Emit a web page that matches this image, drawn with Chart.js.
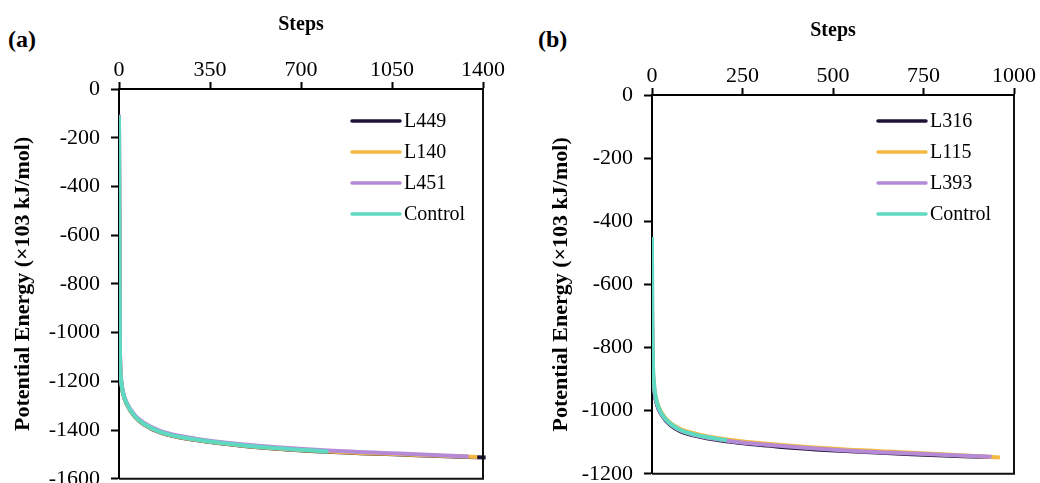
<!DOCTYPE html>
<html lang="en">
<head>
  <meta charset="UTF-8">
  <title>Potential Energy vs Steps</title>
  <script src="https://cdn.jsdelivr.net/npm/chart.js@4.4.0/dist/chart.umd.min.js"></script>
  <style>
    body { margin: 0; background: #fff; width: 1040px; height: 483px; overflow: hidden; position: relative; font-family: 'Liberation Serif', serif; }
    .panel { position: absolute; top: 0; width: 520px; }
    #panelA { left: 0; }
    #panelB { left: 520px; }
    .tag { position: absolute; font-weight: bold; font-size: 24px; line-height: 1; }
  </style>
</head>
<body>
  <div class="tag" style="left:8px; top:27px;">(a)</div>
  <div class="tag" style="left:538px; top:27px;">(b)</div>
  <!-- canvases are taller than the page: the bottom tick label is cut off as in the source figure -->
  <div class="panel" id="panelA"><canvas id="chartA" width="520" height="503"></canvas></div>
  <div class="panel" id="panelB"><canvas id="chartB" width="520" height="498"></canvas></div>

  <script>
    // series names and colours
    const namesA = ['L449', 'L140', 'L451', 'Control'];
    const namesB = ['L316', 'L115', 'L393', 'Control'];
    const colors = ['#1e1236', '#f4b841', '#b58ad6', '#5ed9c2'];

    // panel (a) – steps and potential energy (x10^3 kJ/mol)
    const stepsA_L449 = [0, 2, 4, 8, 15, 30, 60, 95, 160, 290, 480, 805, 1120, 1410];
    const valsA_L449  = [-110, -800, -1100, -1197, -1247, -1294, -1344, -1376, -1410, -1440, -1465, -1489, -1502, -1513];
    const stepsA_L140 = [0, 2, 4, 8, 15, 30, 60, 95, 160, 290, 480, 805, 1120, 1378];
    const valsA_L140  = [-110, -800, -1100, -1196, -1246, -1293, -1343, -1375, -1409, -1439, -1464, -1488, -1501, -1511];
    const stepsA_L451 = [0, 2, 4, 8, 15, 30, 60, 95, 160, 290, 480, 805, 1120, 1345];
    const valsA_L451  = [-105, -790, -1092, -1190, -1240, -1288, -1338, -1370, -1404, -1434, -1459, -1484, -1498, -1508];
    const stepsA_Ctrl = [0, 2, 4, 8, 15, 30, 60, 95, 160, 290, 480, 805];
    const valsA_Ctrl  = [-110, -800, -1100, -1195, -1245, -1292, -1342, -1374, -1408, -1438, -1463, -1488];

    // panel (b)
    const stepsB_L316 = [0, 1, 3, 6, 10, 18, 37, 73, 120, 212, 350, 534, 718, 930];
    const valsB_L316  = [-700, -825, -898, -937, -964, -995, -1030, -1062, -1080, -1098, -1114, -1128, -1138, -1147];
    const stepsB_L115 = [0, 1, 3, 6, 10, 18, 37, 73, 120, 212, 350, 534, 718, 961];
    const valsB_L115  = [-650, -800, -880, -925, -955, -987, -1023, -1055, -1073, -1092, -1108, -1123, -1133, -1148];
    const stepsB_L393 = [0, 1, 3, 6, 10, 18, 37, 73, 120, 212, 350, 534, 718, 938];
    const valsB_L393  = [-600, -790, -885, -932, -962, -993, -1028, -1060, -1078, -1096, -1111, -1126, -1136, -1146];
    const stepsB_Ctrl = [0, 1, 3, 6, 10, 18, 37, 73, 120, 207];
    const valsB_Ctrl  = [-450, -700, -860, -920, -955, -990, -1026, -1058, -1076, -1094];

    // axis ticks
    const xTicksA = { max: 1400, step: 350 };
    const yTicksA = { min: -1600, step: 200 };
    const xTicksB = { max: 1000, step: 250 };
    const yTicksB = { min: -1200, step: 200 };

    const toPoints = (s, v) => s.map((x, i) => ({ x: x, y: v[i] }));
    const plain = v => String(v);   // no thousands separator

    // draws the right and bottom sides of the plot box
    const framePlugin = {
      id: 'frame',
      afterDraw(chart) {
        const { ctx, chartArea: a } = chart;
        ctx.save();
        ctx.strokeStyle = '#111';
        ctx.lineWidth = 2;
        ctx.beginPath();
        ctx.moveTo(a.left, a.bottom);
        ctx.lineTo(a.right, a.bottom);
        ctx.lineTo(a.right, a.top);
        ctx.stroke();
        ctx.restore();
      }
    };

    // legend drawn inside the plot area
    const innerLegend = {
      id: 'innerLegend',
      afterDraw(chart, args, opts) {
        const { ctx, chartArea } = chart;
        ctx.save();
        ctx.font = '20px "Liberation Serif"';
        ctx.textBaseline = 'middle';
        opts.names.forEach((name, i) => {
          const x = chartArea.left + opts.left;
          const y = chartArea.top + opts.top + i * opts.gap;
          ctx.strokeStyle = colors[i];
          ctx.lineWidth = 3.5;
          ctx.lineCap = 'round';
          ctx.beginPath();
          ctx.moveTo(x, y);
          ctx.lineTo(x + 48, y);
          ctx.stroke();
          ctx.fillStyle = '#000';
          ctx.fillText(name, x + 52, y + 1);
        });
        ctx.restore();
      }
    };

    function makeDatasets(names, series) {
      return names.map((n, i) => ({
        label: n,
        data: series[i],
        borderColor: colors[i],
        backgroundColor: colors[i],
        borderWidth: 4,
        pointRadius: 0,
        cubicInterpolationMode: 'monotone',
        order: 4 - i,
        clip: { left: 0, top: 0, right: 12, bottom: 0 }
      }));
    }

    function makeChart(id, names, series, cfg) {
      return new Chart(document.getElementById(id), {
        type: 'line',
        data: { datasets: makeDatasets(names, series) },
        plugins: [framePlugin, innerLegend],
        options: {
          responsive: false,
          animation: false,
          layout: { padding: { left: 0, top: 0, right: cfg.padRight, bottom: 0 } },
          plugins: {
            legend: { display: false },
            tooltip: { enabled: false },
            innerLegend: { names: names, left: cfg.legLeft, top: cfg.legTop, gap: 31 }
          },
          scales: {
            x: {
              type: 'linear',
              position: 'top',
              min: 0,
              max: cfg.x.max,
              ticks: { stepSize: cfg.x.step, color: '#000', padding: -1, maxRotation: 0, callback: plain,
                       font: { family: 'Liberation Serif', size: 22 } },
              grid: { drawOnChartArea: false, tickLength: 7, tickColor: '#000', tickWidth: 2 },
              border: { color: '#000', width: 2 },
              title: { display: true, text: 'Steps', color: '#000', padding: { top: cfg.xTitlePad, bottom: 0 },
                       font: { family: 'Liberation Serif', size: 20, weight: 'bold' } },
              afterFit: s => { s.height = cfg.xHeight; }
            },
            y: {
              min: cfg.y.min,
              max: 0,
              ticks: { stepSize: cfg.y.step, color: '#000', padding: cfg.yTickPad, callback: plain,
                       font: { family: 'Liberation Serif', size: 22 } },
              grid: { drawOnChartArea: false, tickLength: 8, tickColor: '#000', tickWidth: 2 },
              border: { color: '#000', width: 2 },
              title: { display: true, text: 'Potential Energy (×103 kJ/mol)', color: '#000',
                       padding: { top: cfg.yTitlePad, bottom: 0 },
                       font: { family: 'Liberation Serif', size: 22, weight: 'bold' } },
              afterFit: s => { s.width = cfg.yWidth; }
            }
          }
        }
      });
    }

    makeChart('chartA', namesA, [
      toPoints(stepsA_L449, valsA_L449),
      toPoints(stepsA_L140, valsA_L140),
      toPoints(stepsA_L451, valsA_L451),
      toPoints(stepsA_Ctrl, valsA_Ctrl)
    ], { x: xTicksA, y: yTicksA, xHeight: 89, yWidth: 119, padRight: 37,
         xTitlePad: 13, yTitlePad: 10, yTickPad: 11, legLeft: 233, legTop: 32 });

    makeChart('chartB', namesB, [
      toPoints(stepsB_L316, valsB_L316),
      toPoints(stepsB_L115, valsB_L115),
      toPoints(stepsB_L393, valsB_L393),
      toPoints(stepsB_Ctrl, valsB_Ctrl)
    ], { x: xTicksB, y: yTicksB, xHeight: 95, yWidth: 132, padRight: 26,
         xTitlePad: 19, yTitlePad: 28, yTickPad: 11, legLeft: 226, legTop: 26 });
  </script>
</body>
</html>
